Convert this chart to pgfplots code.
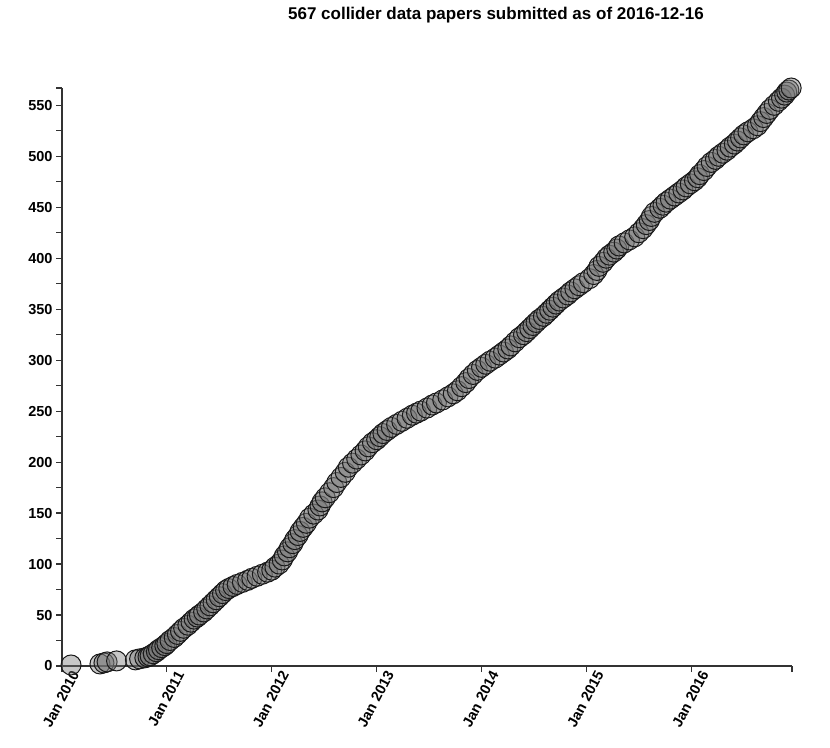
\documentclass[border=0pt]{standalone}
\usepackage{pgfplots}
\pgfplotsset{compat=1.18}
\usepackage{pgfplotstable}
\usepackage{fontspec}
\setmainfont{Liberation Sans}
\pgfplotstableread{
x y
2010.086 1
2010.362 2
2010.400 3
2010.430 4
2010.520 5
2010.700 6
2010.740 7
2010.790 8
2010.820 9
2010.840 10
2010.870 12
2010.900 14
2010.920 16
2010.950 18
2010.980 20
2011.000 22
2011.030 25
2011.070 28
2011.100 31
2011.130 34
2011.160 37
2011.200 40
2011.230 43
2011.260 46
2011.290 48
2011.310 50
2011.350 53
2011.380 56
2011.410 59
2011.440 62
2011.470 65
2011.500 68
2011.530 71
2011.560 74
2011.590 76
2011.630 78
2011.670 80
2011.720 82
2011.770 84
2011.810 86
2011.860 88
2011.910 90
2011.960 92
2012.000 94
2012.030 97
2012.070 100
2012.100 104
2012.120 108
2012.150 112
2012.170 116
2012.200 120
2012.220 124
2012.250 128
2012.270 132
2012.300 136
2012.330 140
2012.360 145
2012.400 149
2012.440 153
2012.460 157
2012.480 161
2012.510 165
2012.550 170
2012.590 175
2012.620 180
2012.660 185
2012.700 190
2012.730 195
2012.770 199
2012.810 203
2012.850 207
2012.890 211
2012.920 215
2012.960 219
2013.000 222
2013.030 225
2013.060 228
2013.100 231
2013.140 234
2013.190 237
2013.240 240
2013.290 243
2013.340 246
2013.380 248
2013.420 250
2013.480 253
2013.530 256
2013.570 258
2013.630 261
2013.680 264
2013.730 267
2013.770 270
2013.810 274
2013.850 278
2013.880 282
2013.920 286
2013.960 290
2014.000 293
2014.040 296
2014.080 299
2014.130 302
2014.170 305
2014.210 308
2014.250 311
2014.280 314
2014.320 318
2014.360 322
2014.400 325
2014.430 328
2014.460 331
2014.490 334
2014.520 337
2014.550 340
2014.590 343
2014.620 346
2014.650 349
2014.680 352
2014.710 355
2014.740 358
2014.780 361
2014.820 364
2014.850 367
2014.890 370
2014.930 373
2014.970 376
2015.030 380
2015.070 384
2015.100 388
2015.120 392
2015.160 396
2015.190 400
2015.220 403
2015.260 406
2015.290 409
2015.310 412
2015.360 415
2015.410 418
2015.460 421
2015.500 425
2015.540 429
2015.570 433
2015.600 437
2015.620 441
2015.650 445
2015.700 449
2015.730 452
2015.760 455
2015.800 458
2015.840 461
2015.880 464
2015.920 467
2015.950 470
2015.990 473
2016.030 476
2016.060 479
2016.080 482
2016.120 486
2016.150 490
2016.190 494
2016.230 497
2016.260 500
2016.300 503
2016.340 506
2016.370 509
2016.410 512
2016.440 515
2016.470 518
2016.500 521
2016.540 524
2016.590 527
2016.630 530
2016.660 534
2016.690 538
2016.720 542
2016.750 546
2016.790 550
2016.830 554
2016.860 557
2016.890 560
2016.910 563
2016.930 565
2016.952 567
}\papers
\begin{document}
\begin{tikzpicture}[x=1pt,y=1pt]
\path (-62,-81) rectangle (768,666);
\begin{axis}[
  at={(0,0)}, anchor=south west,
  scale only axis, width=730pt, height=578pt,
  xmin=2010, xmax=2016.96, ymin=0, ymax=567,
  axis x line=bottom, axis y line=left,
  axis line style={-, black!80, line width=1.2pt},
  xtick={2010,2011,2012,2013,2014,2015,2016},
  xticklabels={Jan 2010,Jan 2011,Jan 2012,Jan 2013,Jan 2014,Jan 2015,Jan 2016},
  extra x ticks={2016.96}, extra x tick labels={},
  ytick={0,50,...,550},
  minor ytick={25,75,...,525},
  extra y ticks={567}, extra y tick labels={},
  tick align=outside, major tick length=6pt, minor tick length=6pt,
  every tick/.style={black!80, line width=1.2pt},
  /pgf/number format/assume math mode=true,
  xticklabel style={xshift=15pt, yshift=3pt, rotate=62, anchor=east, font=\fontsize{14.5}{16}\bfseries},
  yticklabel style={font=\fontsize{14.5}{16}\bfseries},
  clip=false,
]
\addplot[only marks, mark=*, mark size=10pt,
  mark options={fill=black!55, draw=black!90, line width=1pt, fill opacity=0.4}]
  table[x=x,y=y]{\papers};
\end{axis}
\node[font=\fontsize{17}{19}\bfseries, anchor=center] at (434,651) {567 collider data papers submitted as of 2016-12-16};
\end{tikzpicture}
\end{document}
